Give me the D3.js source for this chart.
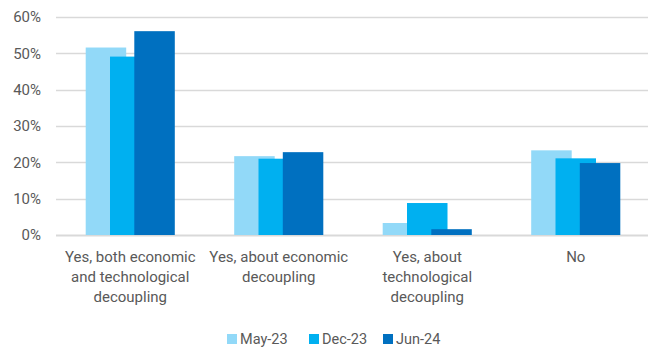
<!DOCTYPE html>
<html lang="en">
<head>
    <meta charset="UTF-8">
    <title>Decoupling survey</title>
    <script src="https://d3js.org/d3.v7.min.js"></script>
    <style>
        body { margin: 0; background: #fff; }
        text { font-family: "Roboto", sans-serif; fill: #595959; }
    </style>
</head>
<body>
    <div id="chart"></div>
    <script>
        const categories = [
            ["Yes, both economic", "and technological", "decoupling"],
            ["Yes, about economic", "decoupling"],
            ["Yes, about", "technological", "decoupling"],
            ["No"]
        ];
        const seriesNames = ["May-23", "Dec-23", "Jun-24"];
        const may23 = [0.516, 0.217, 0.033, 0.233];
        const dec23 = [0.491, 0.210, 0.088, 0.211];
        const jun24 = [0.561, 0.228, 0.016, 0.198];
        const yTicks = [0, 0.1, 0.2, 0.3, 0.4, 0.5, 0.6];
        const colors = ["#92d9f8", "#00b0f0", "#0070c0"];

        const width = 648, height = 348;
        const margin = {top: 17, right: -2, bottom: 113, left: 56};

        const series = [may23, dec23, jun24];
        const catIdx = categories.map((d, i) => i);

        const svg = d3.select("#chart").append("svg")
            .attr("width", width)
            .attr("height", height);

        const x = d3.scaleBand()
            .domain(catIdx)
            .range([margin.left, width - margin.right])
            .paddingInner(0.4)
            .paddingOuter(0.2);

        const y = d3.scaleLinear()
            .domain([0, 0.6])
            .range([height - margin.bottom, margin.top]);

        // gridlines
        svg.append("g")
            .selectAll("line")
            .data(yTicks)
            .enter().append("line")
            .attr("x1", margin.left)
            .attr("x2", width - margin.right)
            .attr("y1", d => Math.round(y(d)) + 0.5)
            .attr("y2", d => Math.round(y(d)) + 0.5)
            .attr("stroke", "#d9d9d9")
            .attr("stroke-width", d => d === 0 ? 2 : 1.5);

        // bars overlap a bit, like the Excel original
        const barW = x.bandwidth() / 2.2;
        const step = (x.bandwidth() - barW) / 2;

        series.forEach((vals, s) => {
            svg.append("g")
                .attr("fill", colors[s])
                .selectAll("rect")
                .data(vals)
                .enter().append("rect")
                .attr("x", (d, i) => x(i) + s * step)
                .attr("y", d => y(d))
                .attr("width", barW)
                .attr("height", d => y(0) - y(d));
        });

        // y axis labels
        svg.append("g")
            .selectAll("text")
            .data(yTicks)
            .enter().append("text")
            .attr("x", 41)
            .attr("y", d => y(d))
            .attr("dy", "0.35em")
            .attr("text-anchor", "end")
            .style("font-size", "15px")
            .text(d3.format(".0%"));

        // category labels
        const cat = svg.append("g")
            .selectAll("text")
            .data(categories)
            .enter().append("text")
            .attr("transform", (d, i) => `translate(${x(i) + x.bandwidth() / 2},0)`)
            .attr("text-anchor", "middle")
            .style("font-size", "15px");
        cat.selectAll("tspan")
            .data(d => d)
            .enter().append("tspan")
            .attr("x", 0)
            .attr("y", (d, j) => 262 + j * 20)
            .text(d => d);

        // legend
        const legendX = [227, 309, 383];
        const lg = svg.append("g")
            .selectAll("g")
            .data(seriesNames)
            .enter().append("g")
            .attr("transform", (d, i) => `translate(${legendX[i]},334)`);
        lg.append("rect")
            .attr("width", 10)
            .attr("height", 10)
            .attr("fill", (d, i) => colors[i]);
        lg.append("text")
            .attr("x", 13)
            .attr("y", 5)
            .attr("dy", "0.35em")
            .style("font-size", "14.5px")
            .text(d => d);
    </script>
</body>
</html>
